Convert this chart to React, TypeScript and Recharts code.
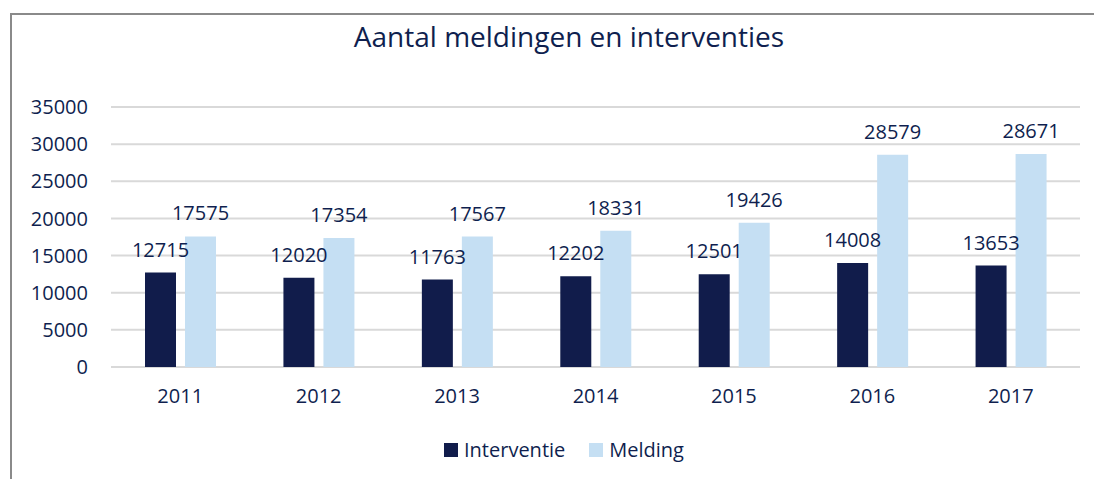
import { BarChart, Bar, XAxis, YAxis, CartesianGrid, Legend, LabelList } from "recharts";

const years = ["2011", "2012", "2013", "2014", "2015", "2016", "2017"];
const interventie = [12715, 12020, 11763, 12202, 12501, 14008, 13653];
const melding = [17575, 17354, 17567, 18331, 19426, 28579, 28671];
const yTicks = [0, 5000, 10000, 15000, 20000, 25000, 30000, 35000];

const NAVY = "#111c4b";
const LIGHT = "#c5dff3";
const TEXT = "#0f1f4f";
const FONT = "'Open Sans', sans-serif";

const data = years.map((y, i) => ({ year: y, Interventie: interventie[i], Melding: melding[i] }));

function LegendBox() {
  const items = [
    { name: "Interventie", color: NAVY },
    { name: "Melding", color: LIGHT },
  ];
  return (
    <div style={{ display: "flex", justifyContent: "center", gap: 24, paddingLeft: 48, fontFamily: FONT, fontSize: 20, color: TEXT }}>
      {items.map((it) => (
        <span key={it.name} style={{ display: "flex", alignItems: "center", gap: 6 }}>
          <span style={{ width: 14, height: 14, background: it.color, display: "inline-block" }} />
          {it.name}
        </span>
      ))}
    </div>
  );
}

export default function App() {
  return (
    <div style={{ position: "absolute", left: 0, top: 0, width: 1094, height: 479, background: "#fff", overflow: "hidden" }}>
      <div style={{ position: "absolute", left: 10, top: 13, width: 1200, height: 600, borderLeft: "2px solid #8a8a8a", borderTop: "2px solid #8a8a8a" }} />
      <div style={{ position: "absolute", left: 0, top: 17, width: 1094, paddingLeft: 44, boxSizing: "border-box", textAlign: "center", fontFamily: FONT, fontSize: 28, color: TEXT }}>
        Aantal meldingen en interventies
      </div>
      <div style={{ position: "absolute", left: 0, top: 0 }}>
        <BarChart width={1094} height={479} data={data} margin={{ top: 107, right: 14, left: 0, bottom: 45 }} barSize={31} barGap={9}>
          <CartesianGrid vertical={false} stroke="#d9d9d9" strokeWidth={2} />
          <XAxis dataKey="year" axisLine={false} tickLine={false} tickMargin={16} height={40}
            tick={{ fill: TEXT, fontSize: 20, fontFamily: FONT }} />
          <YAxis width={111} domain={[0, 35000]} ticks={yTicks} axisLine={false} tickLine={false} tickMargin={17}
            tick={{ fill: TEXT, fontSize: 20, fontFamily: FONT }} />
          <Legend verticalAlign="bottom" content={<LegendBox />} wrapperStyle={{ bottom: 16 }} />
          <Bar dataKey="Interventie" fill={NAVY} isAnimationActive={false}>
            <LabelList dataKey="Interventie" position="top" offset={16} fill={TEXT} fontSize={20} fontFamily={FONT} />
          </Bar>
          <Bar dataKey="Melding" fill={LIGHT} isAnimationActive={false}>
            <LabelList dataKey="Melding" position="top" offset={16} fill={TEXT} fontSize={20} fontFamily={FONT} />
          </Bar>
        </BarChart>
      </div>
    </div>
  );
}
